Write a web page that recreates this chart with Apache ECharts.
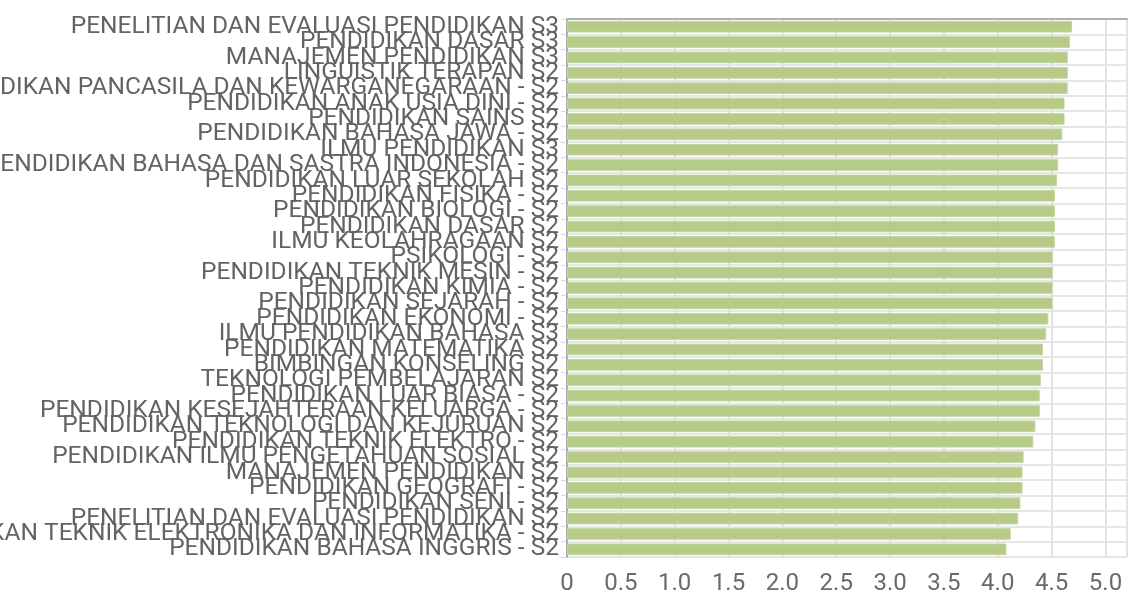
<!DOCTYPE html>
<html>
<head>
<meta charset="utf-8">
<script src="https://cdn.jsdelivr.net/npm/echarts@6/dist/echarts.min.js"></script>
<style>html,body{margin:0;padding:0;background:#fff}#c{width:1128px;height:601px}</style>
</head>
<body>
<div id="c"></div>
<script>
const categories = [
  "PENELITIAN DAN EVALUASI PENDIDIKAN S3",
  "PENDIDIKAN DASAR S3",
  "MANAJEMEN PENDIDIKAN S3",
  "LINGUISTIK TERAPAN S2",
  "PENDIDIKAN PANCASILA DAN KEWARGANEGARAAN - S2",
  "PENDIDIKAN ANAK USIA DINI - S2",
  "PENDIDIKAN SAINS S2",
  "PENDIDIKAN BAHASA JAWA - S2",
  "ILMU PENDIDIKAN S3",
  "PENDIDIKAN BAHASA DAN SASTRA INDONESIA - S2",
  "PENDIDIKAN LUAR SEKOLAH S2",
  "PENDIDIKAN FISIKA - S2",
  "PENDIDIKAN BIOLOGI - S2",
  "PENDIDIKAN DASAR S2",
  "ILMU KEOLAHRAGAAN S2",
  "PSIKOLOGI - S2",
  "PENDIDIKAN TEKNIK MESIN - S2",
  "PENDIDIKAN KIMIA - S2",
  "PENDIDIKAN SEJARAH - S2",
  "PENDIDIKAN EKONOMI - S2",
  "ILMU PENDIDIKAN BAHASA S3",
  "PENDIDIKAN MATEMATIKA S2",
  "BIMBINGAN KONSELING S2",
  "TEKNOLOGI PEMBELAJARAN S2",
  "PENDIDIKAN LUAR BIASA - S2",
  "PENDIDIKAN KESEJAHTERAAN KELUARGA - S2",
  "PENDIDIKAN TEKNOLOGI DAN KEJURUAN S2",
  "PENDIDIKAN TEKNIK ELEKTRO - S2",
  "PENDIDIKAN ILMU PENGETAHUAN SOSIAL S2",
  "MANAJEMEN PENDIDIKAN S2",
  "PENDIDIKAN GEOGRAFI - S2",
  "PENDIDIKAN SENI - S2",
  "PENELITIAN DAN EVALUASI PENDIDIKAN S2",
  "PENDIDIKAN TEKNIK ELEKTRONIKA DAN INFORMATIKA - S2",
  "PENDIDIKAN BAHASA INGGRIS - S2"
];
const values = [
  4.69, 4.67, 4.65, 4.65, 4.65, 4.62, 4.62, 4.60, 4.56, 4.56,
  4.55, 4.53, 4.53, 4.53, 4.53, 4.51, 4.51, 4.51, 4.51, 4.47,
  4.45, 4.42, 4.42, 4.40, 4.39, 4.39, 4.35, 4.33, 4.24, 4.23,
  4.23, 4.21, 4.19, 4.12, 4.08
];
const xTicks = { min: 0, max: 5.2, interval: 0.5 };

const chart = echarts.init(document.getElementById('c'), null, { renderer: 'canvas' });
chart.setOption({
  animation: false,
  backgroundColor: '#ffffff',
  grid: { left: 567, right: 1, top: 19, bottom: 44, containLabel: false, outerBoundsMode: 'none' },
  xAxis: [{
    type: 'value',
    min: xTicks.min, max: xTicks.max, interval: xTicks.interval,
    position: 'bottom',
    axisLine: { show: false },
    axisTick: { show: false },
    splitLine: { show: true, lineStyle: { color: '#e2e2e2', width: 2 } },
    axisLabel: {
      color: '#6a6a6a', fontFamily: 'Roboto', fontSize: 24, margin: 15,
      showMaxLabel: false,
      formatter: v => v === 0 ? '0' : v.toFixed(1)
    }
  }, {
    type: 'value',
    min: xTicks.min, max: xTicks.max, interval: xTicks.interval,
    position: 'top',
    axisLine: { show: true, lineStyle: { color: '#b0b0b0', width: 2 } },
    axisTick: { show: false },
    axisLabel: { show: false },
    splitLine: { show: false }
  }],
  yAxis: {
    type: 'category',
    inverse: true,
    data: categories,
    axisLine: { show: true, lineStyle: { color: '#a8a8a8', width: 2 } },
    axisTick: { show: true, length: 6, lineStyle: { color: '#d8d8d8' } },
    splitLine: { show: true, lineStyle: { color: '#e6e6e6', width: 2 } },
    axisLabel: {
      color: '#636363', fontFamily: 'Roboto', fontSize: 24.5, margin: 8,
      interval: 0
    }
  },
  series: [{
    type: 'bar',
    data: values,
    xAxisIndex: 0,
    barCategoryGap: '24%',
    itemStyle: { color: '#b6cb88', borderColor: '#c4d6a0', borderWidth: 1 }
  }]
});
</script>
</body>
</html>
